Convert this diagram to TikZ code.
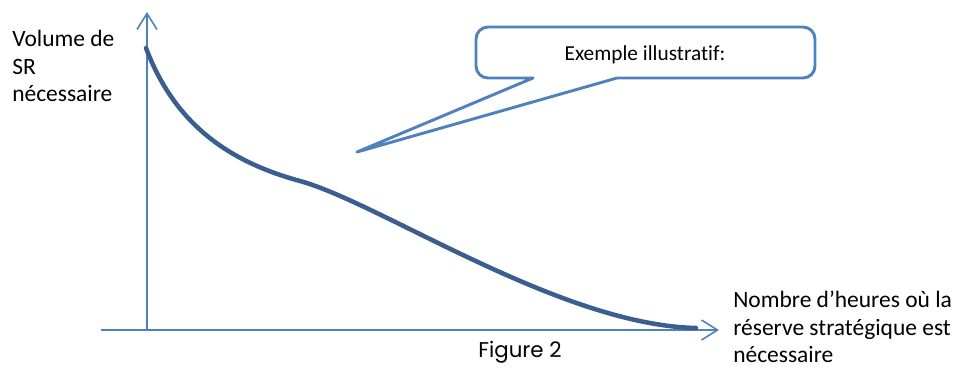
\documentclass[tikz,border=0pt]{standalone}
\usepackage{fontspec}
\setmainfont[Ligatures=NoCommon]{Carlito}
\newfontfamily\captionfont{Poppins}
\usetikzlibrary{arrows.meta}

\definecolor{axisblue}{HTML}{4F81BD}
\definecolor{curveblue}{HTML}{3A5F8E}

\tikzset{
    axis/.style={draw=axisblue, line width=1.2pt,
        -{Straight Barb[length=12pt,width=15pt,line width=1.2pt]}},
    curve/.style={draw=curveblue, line width=3.4pt, line cap=round},
    bubble/.style={draw=axisblue, line width=2.2pt, line join=round},
    label/.style={align=left, inner sep=0pt, font=\fontsize{17.6}{20.6}\selectfont}
}

\begin{document}
\begin{tikzpicture}[x=0.75pt, y=-0.75pt]
    \useasboundingbox (0,0) rectangle (957,369);

    % Assi
    \coordinate (origin) at (147,330);
    \coordinate (ytop) at (147,12);
    \coordinate (xstart) at (101,330);
    \coordinate (xend) at (719,330);
    \draw[axis] (origin) -- (ytop);
    \draw[axis] (xstart) -- (xend);

    % Courbe
    \draw[curve] (146,48) .. controls (175,125) and (230,162) .. (300,181)
        .. controls (380,203) and (560,325) .. (696,328);

    % Bulle
    \coordinate (tip) at (357,152);
    \draw[bubble] (617,78) [rounded corners=9pt] -- (815,78) -- (815,27)
        -- (476,27) -- (476,78) [sharp corners] -- (533,78) -- (tip) -- cycle;
    \node[inner sep=0pt, font=\fontsize{16}{19}\selectfont] (note) at (645,55) {Exemple illustratif:};

    % Etiquettes
    \node[label, anchor=north west] (ylabel) at (12,30) {Volume de\\SR\\nécessaire};
    \node[label, anchor=north west] (xlabel) at (733,291) {Nombre d’heures où la\\réserve stratégique est\\nécessaire};

    % Legende
    \node[font=\captionfont\fontsize{16}{19}\selectfont, inner sep=0pt] (caption) at (520,352) {Figure 2};
\end{tikzpicture}
\end{document}
